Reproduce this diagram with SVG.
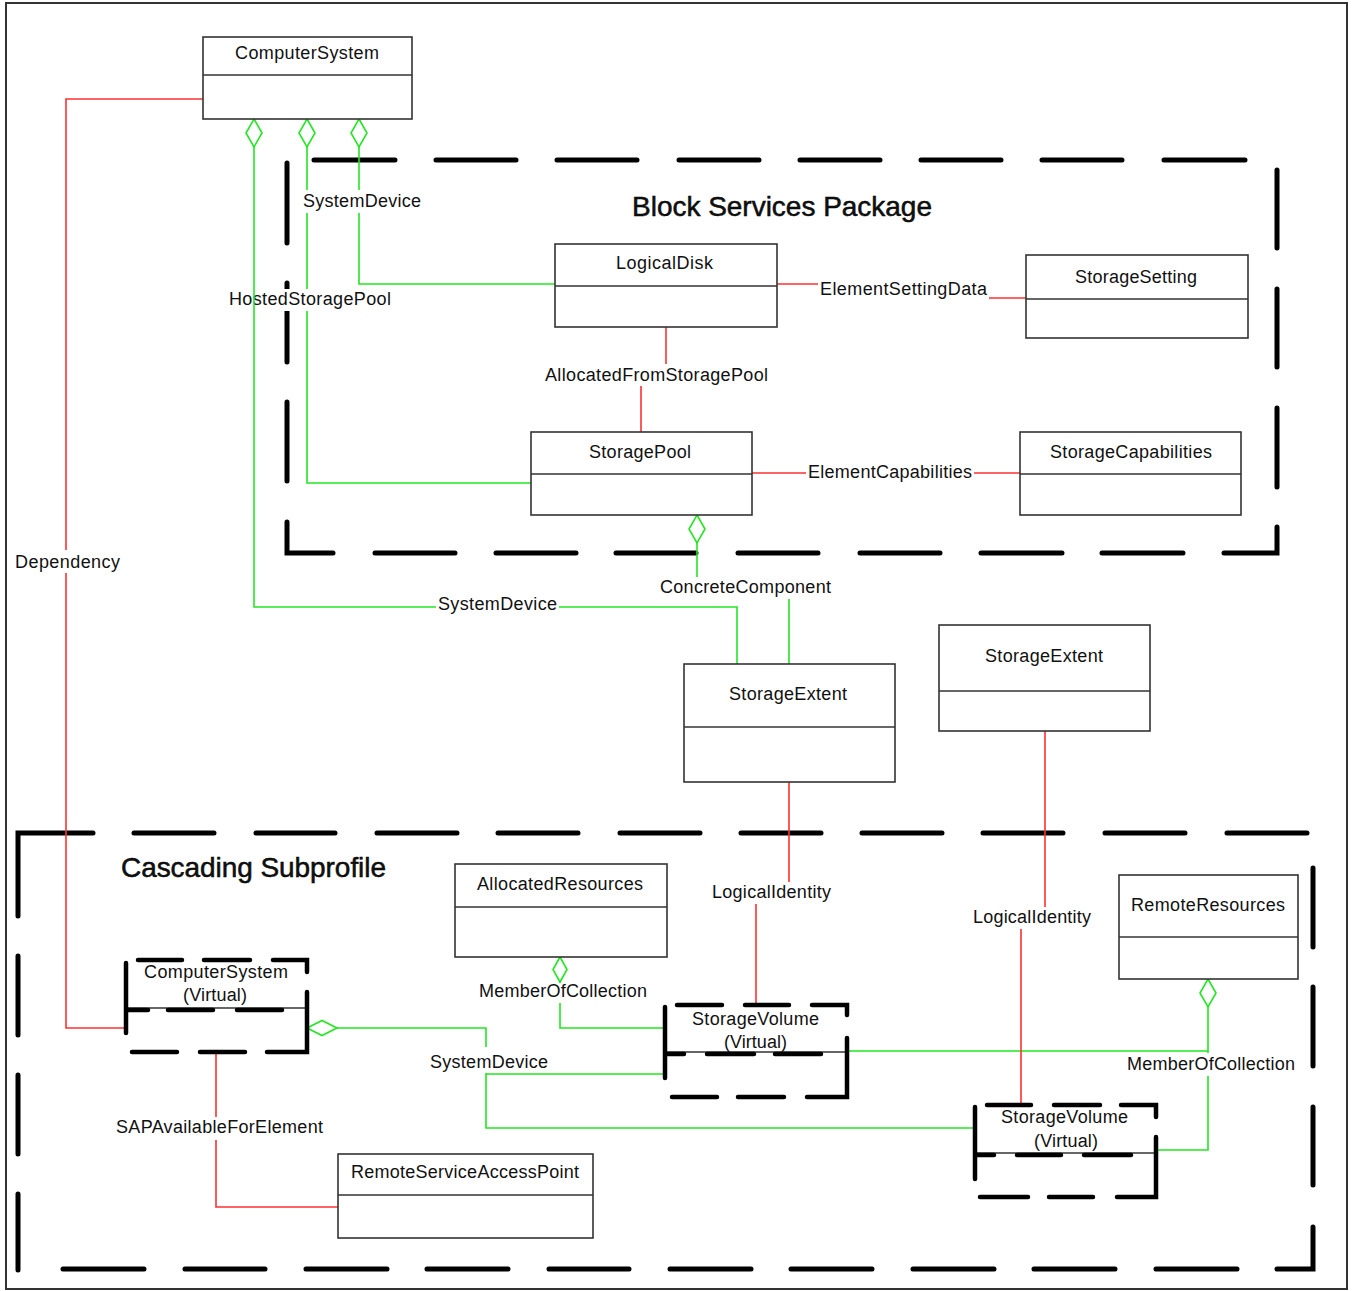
<svg xmlns="http://www.w3.org/2000/svg" width="1352" height="1291" viewBox="0 0 1352 1291">
<style>
text{font-family:"Liberation Sans",Arial,sans-serif;font-size:18px;fill:#111;}
.t{text-anchor:middle;}
.title{font-size:28px;stroke:#000;stroke-width:0.5;}
.box{fill:#fff;stroke:#333;stroke-width:1.6;}
.div{stroke:#333;stroke-width:1.6;fill:none;}
.pkg{fill:none;stroke:#000;stroke-width:5;stroke-linecap:round;stroke-linejoin:miter;}
.vb{fill:none;stroke:#000;stroke-width:4.5;stroke-linecap:round;stroke-linejoin:miter;}
.thin{stroke:#333;stroke-width:1.3;fill:none;}
.g{fill:none;stroke:#22e622;stroke-width:1.6;}
.r{fill:none;stroke:#ff3030;stroke-width:1.6;}
.dia{fill:#fff;stroke:#22e622;stroke-width:1.6;}
.bg{fill:#fff;stroke:none;}
</style>
<rect x="0" y="0" width="1352" height="1291" fill="#fff"/>
<rect x="6" y="3" width="1341" height="1286" fill="none" stroke="#333" stroke-width="2"/>

<g id="block-services-package">
<path class="pkg" d="M287,163V243 M287,283V362 M287,402V481 M287,522V553H333 M375,553H455 M496,553H576 M616,553H696 M738,553H818 M860,553H940 M981,553H1062 M1102,553H1183 M1224,553H1277V527 M1277,487V408 M1277,367V289 M1277,248V170 M1245,160H1164 M1122,160H1042 M1001,160H921 M880,160H800 M759,160H679 M637,160H557 M516,160H436 M395,160H314"/>
<text class="t title" x="782" y="216" textLength="300">Block Services Package</text>
</g>

<g id="cascading-subprofile">
<path class="pkg" d="M18,916V833H93 M134,833H214 M256,833H335 M377,833H457 M498,833H578 M620,833H700 M741,833H821 M862,833H942 M983,833H1063 M1105,833H1185 M1227,833H1307 M1313,868V947 M1313,987V1066 M1313,1107V1185 M1313,1227V1269H1277 M1237,1269H1156 M1115,1269H1034 M994,1269H913 M872,1269H791 M751,1269H670 M629,1269H549 M508,1269H427 M387,1269H306 M265,1269H185 M144,1269H63 M18,1270V1194 M18,1154V1075 M18,1035V956"/>
<text class="t title" x="253.5" y="877" textLength="265">Cascading Subprofile</text>
</g>

<g id="connectors">
<!-- green -->
<path class="g" d="M307,147V483H531"/>
<path class="g" d="M359,147V284H555"/>
<path class="g" d="M697,543V589H789V664"/>
<path class="g" d="M560,982V1028H665"/>
<path class="g" d="M337,1028H486V1128H975 M486,1074H665"/>
<path class="g" d="M1208,1007V1051H847 M1208,1051V1150H1157"/>
<!-- red -->
<path class="r" d="M203,99H66V1028H126"/>
<path class="r" d="M777,284H900V298H1026"/>
<path class="r" d="M666,327V372H641V432"/>
<path class="r" d="M752,473H1020"/>
<path class="r" d="M789,782V891H756V1005"/>
<path class="r" d="M1045,731V915H1021V1105"/>
<path class="r" d="M216,1052V1207H338"/>
<!-- labels -->
<rect class="bg" x="301" y="190" width="122" height="23"/>
<text class="t" x="362" y="207" textLength="118">SystemDevice</text>
<rect class="bg" x="227" y="289" width="166" height="22"/>
<text class="t" x="310" y="305" textLength="162">HostedStoragePool</text>
<rect class="bg" x="818" y="279" width="171" height="22"/>
<text class="t" x="903.5" y="295" textLength="167">ElementSettingData</text>
<rect class="bg" x="543" y="364" width="227" height="22"/>
<text class="t" x="656.5" y="381" textLength="223">AllocatedFromStoragePool</text>
<rect class="bg" x="806" y="462" width="168" height="22"/>
<text class="t" x="890" y="478" textLength="164">ElementCapabilities</text>
<rect class="bg" x="13" y="550" width="109" height="23"/>
<text class="t" x="67.5" y="568" textLength="105">Dependency</text>
<rect class="bg" x="658" y="577" width="175" height="22"/>
<text class="t" x="745.5" y="593" textLength="171">ConcreteComponent</text>
<rect class="bg" x="710" y="882" width="123" height="22"/>
<text class="t" x="771.5" y="898" textLength="119">LogicalIdentity</text>
<rect class="bg" x="971" y="907" width="122" height="22"/>
<text class="t" x="1032" y="923" textLength="118">LogicalIdentity</text>
<rect class="bg" x="477" y="983" width="172" height="20"/>
<text class="t" x="563" y="997" textLength="168">MemberOfCollection</text>
<rect class="bg" x="428" y="1047" width="122" height="26"/>
<text class="t" x="489" y="1068" textLength="118">SystemDevice</text>
<rect class="bg" x="1125" y="1053" width="172" height="23"/>
<text class="t" x="1211" y="1070" textLength="168">MemberOfCollection</text>
<rect class="bg" x="114" y="1117" width="211" height="23"/>
<text class="t" x="219.5" y="1133" textLength="207">SAPAvailableForElement</text>
<!-- x=254 SystemDevice connector drawn above HostedStoragePool label -->
<path class="g" d="M254,147V607H737V664"/>
<rect class="bg" x="436" y="594" width="123" height="22"/>
<text class="t" x="497.5" y="610" textLength="119">SystemDevice</text>
<!-- diamonds -->
<path class="dia" d="M254,119L262,133L254,147L246,133Z"/>
<path class="dia" d="M307,119L315,133L307,147L299,133Z"/>
<path class="dia" d="M359,119L367,133L359,147L351,133Z"/>
<path class="dia" d="M697,515L705,529L697,543L689,529Z"/>
<path class="dia" d="M560,957L567,969.5L560,982L553,969.5Z"/>
<path class="dia" d="M1208,979L1216,993L1208,1007L1200,993Z"/>
<path class="dia" d="M307,1028L322,1020.5L337,1028L322,1035.5Z"/>
</g>

<g id="ComputerSystem">
<rect class="box" x="203" y="37" width="209" height="82"/>
<line class="div" x1="203" y1="75" x2="412" y2="75"/>
<text class="t" x="307" y="59" textLength="144">ComputerSystem</text>
</g>

<g id="LogicalDisk">
<rect class="box" x="555" y="244" width="222" height="83"/>
<line class="div" x1="555" y1="286" x2="777" y2="286"/>
<text class="t" x="664.5" y="269" textLength="97">LogicalDisk</text>
</g>

<g id="StorageSetting">
<rect class="box" x="1026" y="255" width="222" height="83"/>
<line class="div" x1="1026" y1="299" x2="1248" y2="299"/>
<text class="t" x="1136" y="283" textLength="122">StorageSetting</text>
</g>

<g id="StoragePool">
<rect class="box" x="531" y="432" width="221" height="83"/>
<line class="div" x1="531" y1="474" x2="752" y2="474"/>
<text class="t" x="640" y="458" textLength="102">StoragePool</text>
</g>

<g id="StorageCapabilities">
<rect class="box" x="1020" y="432" width="221" height="83"/>
<line class="div" x1="1020" y1="474" x2="1241" y2="474"/>
<text class="t" x="1131" y="458" textLength="162">StorageCapabilities</text>
</g>

<g id="StorageExtent-1">
<rect class="box" x="684" y="664" width="211" height="118"/>
<line class="div" x1="684" y1="727" x2="895" y2="727"/>
<text class="t" x="788" y="700" textLength="118">StorageExtent</text>
</g>

<g id="StorageExtent-2">
<rect class="box" x="939" y="625" width="211" height="106"/>
<line class="div" x1="939" y1="691" x2="1150" y2="691"/>
<text class="t" x="1044" y="662" textLength="118">StorageExtent</text>
</g>

<g id="AllocatedResources">
<rect class="box" x="455" y="864" width="212" height="93"/>
<line class="div" x1="455" y1="907" x2="667" y2="907"/>
<text class="t" x="560" y="890" textLength="166">AllocatedResources</text>
</g>

<g id="RemoteResources">
<rect class="box" x="1119" y="875" width="179" height="104"/>
<line class="div" x1="1119" y1="937" x2="1298" y2="937"/>
<text class="t" x="1208" y="911" textLength="154">RemoteResources</text>
</g>

<g id="RemoteServiceAccessPoint">
<rect class="box" x="338" y="1154" width="255" height="84"/>
<line class="div" x1="338" y1="1195" x2="593" y2="1195"/>
<text class="t" x="465" y="1178" textLength="228">RemoteServiceAccessPoint</text>
</g>

<g id="ComputerSystem-Virtual">
<line class="thin" x1="126" y1="1008" x2="307" y2="1008"/>
<path class="vb" d="M138,960H182 M204,960H250 M273,960H307V972 M307,992V1052H267 M245,1052H200 M177,1052H132 M126,1033V963 M126,1010H148 M168,1010H213 M237,1010H282"/>
<text class="t" x="216" y="978" textLength="144">ComputerSystem</text>
<text class="t" x="215" y="1001" textLength="64">(Virtual)</text>
</g>

<g id="StorageVolume-Virtual-1">
<line class="thin" x1="665" y1="1052" x2="847" y2="1052"/>
<path class="vb" d="M677,1005H722 M745,1005H789 M812,1005H847V1015 M847,1038V1097H807 M784,1097H738 M717,1097H672 M665,1078V1007 M665,1054H684 M707,1054H754 M775,1054H821"/>
<text class="t" x="755.5" y="1025" textLength="127">StorageVolume</text>
<text class="t" x="755.5" y="1048" textLength="63">(Virtual)</text>
</g>

<g id="StorageVolume-Virtual-2">
<line class="thin" x1="975" y1="1153" x2="1156" y2="1153"/>
<path class="vb" d="M987,1105H1031 M1054,1105H1100 M1121,1105H1156V1117 M1156,1137V1197H1117 M1093,1197H1049 M1028,1197H980 M975,1179V1107 M975,1155H994 M1017,1155H1061 M1084,1155H1131"/>
<text class="t" x="1064.5" y="1123" textLength="127">StorageVolume</text>
<text class="t" x="1066" y="1147" textLength="64">(Virtual)</text>
</g>
</svg>
